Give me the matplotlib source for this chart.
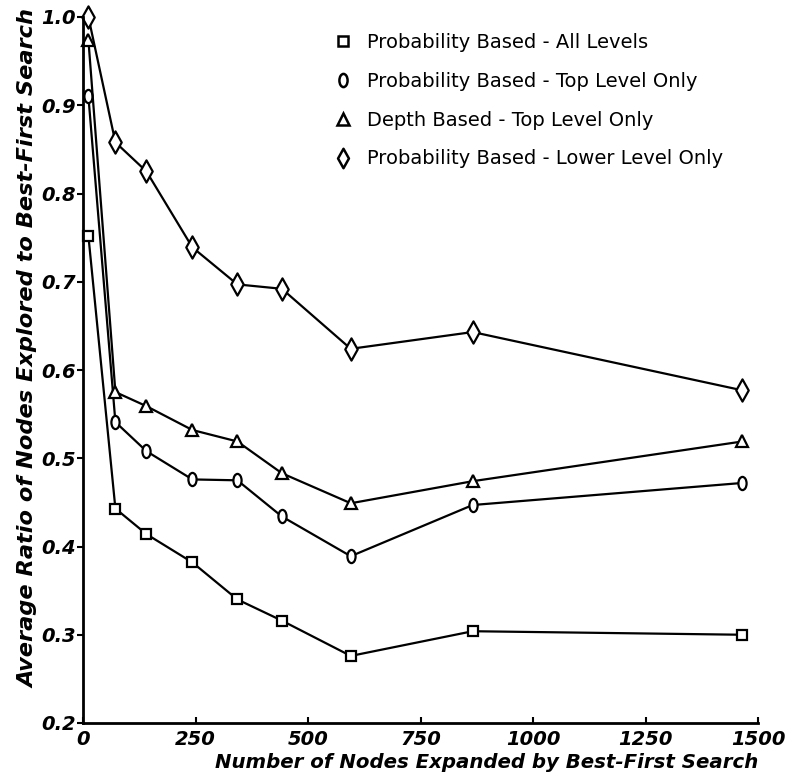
import matplotlib
matplotlib.use("Agg")
import matplotlib.pyplot as plt
from matplotlib.path import Path
from matplotlib.transforms import Affine2D
from matplotlib.lines import Line2D
from matplotlib.font_manager import FontProperties

# ---- data ----
nodes_expanded = [12, 72, 141, 243, 343, 442, 595, 866, 1465]
prob_all_levels = [0.752, 0.443, 0.414, 0.382, 0.340, 0.316, 0.276, 0.304, 0.300]
prob_top_level = [0.910, 0.541, 0.508, 0.476, 0.475, 0.434, 0.389, 0.447, 0.472]
depth_top_level = [0.974, 0.575, 0.559, 0.532, 0.519, 0.483, 0.449, 0.474, 0.519]
prob_lower_level = [1.000, 0.858, 0.825, 0.739, 0.697, 0.692, 0.624, 0.643, 0.577]

series_labels = [
    "Probability Based - All Levels",
    "Probability Based - Top Level Only",
    "Depth Based - Top Level Only",
    "Probability Based - Lower Level Only",
]
x_ticks = [0, 250, 500, 750, 1000, 1250, 1500]
y_ticks = [0.2, 0.3, 0.4, 0.5, 0.6, 0.7, 0.8, 0.9, 1.0]
x_label = "Number of Nodes Expanded by Best-First Search"
y_label = "Average Ratio of Nodes Explored to Best-First Search"

# ---- markers ----
ellipse = Path.unit_circle().transformed(Affine2D().scale(0.62, 1.0))
diamond = Path([(0, 1), (0.56, 0), (0, -1), (-0.56, 0), (0, 1)],
               [Path.MOVETO, Path.LINETO, Path.LINETO, Path.LINETO, Path.CLOSEPOLY])

styles = [
    dict(marker="s", markersize=7.5),
    dict(marker=ellipse, markersize=9.5),
    dict(marker="^", markersize=8),
    dict(marker=diamond, markersize=16),
]
data = [prob_all_levels, prob_top_level, depth_top_level, prob_lower_level]

fig = plt.figure(figsize=(7.95, 7.81), dpi=100)
W, H = 795, 781
ax = fig.add_axes([83 / W, 1 - 723 / H, (758 - 83) / W, (723 - 17) / H])

for vals, st in zip(data, styles):
    ax.plot(nodes_expanded, vals, color="black", lw=1.6,
            mfc="white", mec="black", mew=1.6, clip_on=False, **st)

ax.set_xlim(0, 1500)
ax.set_ylim(0.2, 1.0)
ax.set_xticks(x_ticks)
ax.set_yticks(y_ticks)
ax.set_xticklabels([str(t) for t in x_ticks])
ax.set_yticklabels([f"{t:.1f}" for t in y_ticks])

for s in ["top", "right"]:
    ax.spines[s].set_visible(False)
for s in ["left", "bottom"]:
    ax.spines[s].set_linewidth(2.0)

tick_font = dict(family="DejaVu Sans", weight="bold", style="oblique", size=14)
for lab in ax.get_xticklabels() + ax.get_yticklabels():
    lab.set_fontproperties(FontProperties(**tick_font))
ax.tick_params(axis="x", direction="in", length=4, width=1.5, pad=5)
ax.tick_params(axis="y", direction="out", length=4, width=1.5, pad=1)

fig.text(487 / W, 1 - 763 / H, x_label, ha="center", va="center",
         family="DejaVu Sans", weight="bold", style="oblique", size=14.2)
fig.text(28 / W, 1 - 349 / H, y_label, ha="center", va="center", rotation=90,
         family="DejaVu Sans", weight="bold", style="oblique", size=16.2)

handles = [Line2D([], [], ls="none", color="black", mfc="white", mec="black",
                  mew=1.8, **st) for st in styles]
handles[3].set_markersize(14)
ax.legend(handles, series_labels, loc="upper left",
          bbox_to_anchor=(333 / W, 1 - 33 / H), bbox_transform=fig.transFigure,
          frameon=False, borderpad=0, borderaxespad=0, handlelength=1.0,
          handletextpad=0.75, labelspacing=1.02,
          prop=dict(family="DejaVu Sans", size=14))

fig.savefig("out.png", dpi=100)
